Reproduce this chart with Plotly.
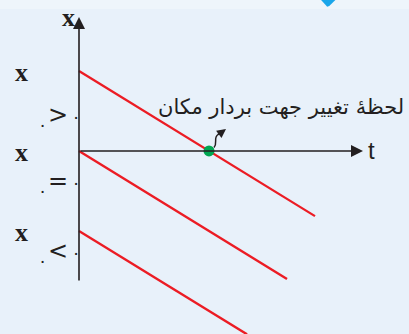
import plotly.graph_objects as go

# position-time lines for three starting positions (x0 > 0, x0 = 0, x0 < 0)
x0_values = [8.0, 0.0, -8.0]
velocity = -0.615
t_end = [23.6, 20.8, 16.8]
t_turn = 13.0  # moment the position vector changes direction
t_axis_end = 28.4
x_axis_min, x_axis_max = -13.1, 13.4

row_signs = ['>', '=', '<']
arabic_label = 'لحظهٔ تغییر جهت بردار مکان'
zero_fa = '۰'

RED = '#EC1C24'
AXIS = '#231F20'
BG = '#E8F1FA'

fig = go.Figure()

for x0, te in zip(x0_values, t_end):
    fig.add_trace(go.Scatter(
        x=[0, te], y=[x0, x0 + velocity * te], mode='lines',
        line=dict(color=RED, width=2.3), hoverinfo='skip', showlegend=False))

# green dot where the x0 > 0 line crosses the t axis
fig.add_trace(go.Scatter(
    x=[t_turn], y=[x0_values[0] + velocity * t_turn], mode='markers',
    marker=dict(color='#00A651', size=11), hoverinfo='skip', showlegend=False))

# axes with arrows
arrow = dict(showarrow=True, arrowhead=2, arrowsize=1.5, arrowwidth=1.6,
             arrowcolor=AXIS, xref='x', yref='y', axref='x', ayref='y', text='', standoff=0)
fig.add_annotation(x=0, y=x_axis_max, ax=0, ay=x_axis_min, **arrow)
fig.add_annotation(x=t_axis_end, y=0, ax=0, ay=0, **arrow)

# little curved pointer from the dot
fig.add_shape(type='path', xref='x', yref='y',
              path='M 13.5 0.35 C 13.9 0.8, 13.4 1.3, 13.9 1.65 L 14.3 1.9',
              line=dict(color=AXIS, width=1.5))
fig.add_annotation(x=14.7, y=2.2, ax=14.1, ay=1.75, showarrow=True, arrowhead=2,
                   arrowsize=1.2, arrowwidth=1.5, arrowcolor=AXIS,
                   xref='x', yref='y', axref='x', ayref='y', text='', standoff=0)

serif = dict(family='Liberation Serif', size=26, color=AXIS, weight='bold')

fig.add_annotation(x=-1.1, y=13.4, text='x', showarrow=False, font=serif)
fig.add_annotation(x=29.2, y=0.1, text='t', showarrow=False,
                   font=dict(family='Liberation Sans', size=24, color=AXIS))
fig.add_annotation(x=32.7, y=4.4, text=arabic_label, showarrow=False, xanchor='right',
                   font=dict(family='DejaVu Sans', size=21, color=AXIS))

# row labels: x, subscript zero, then "sign zero"
sub_offsets = [5.4, 4.0, 3.0]
sign_offsets = [4.4, 3.0, 2.0]
small = dict(family='DejaVu Sans', size=17, color=AXIS)
for x0, sign, so, go_ in zip(x0_values, row_signs, sub_offsets, sign_offsets):
    fig.add_annotation(x=-5.8, y=x0 - 0.1, text='x', showarrow=False, font=serif)
    fig.add_annotation(x=-3.7, y=x0 - so, text=zero_fa, showarrow=False, font=small)
    fig.add_annotation(x=-1.5, y=x0 - go_, showarrow=False,
                       text=f'{sign}<span style="font-size:17px">\u2009{zero_fa}</span>',
                       font=dict(family='DejaVu Sans', size=24, color=AXIS))

# top light band and blue drop at the top edge
fig.add_shape(type='rect', xref='paper', yref='paper', x0=0, x1=1, y0=0.973, y1=1,
              fillcolor='#EEF5FB', line=dict(width=0), layer='below')
fig.add_shape(type='path', xref='paper', yref='paper',
              path='M 0.785 1 L 0.82 1 L 0.805 0.982 L 0.8 0.980 Z',
              fillcolor='#1AA6EA', line=dict(width=0))

fig.update_layout(
    width=409, height=334, margin=dict(l=0, r=0, t=0, b=0),
    plot_bgcolor=BG, paper_bgcolor=BG,
    xaxis=dict(range=[-7.9, 33.0], visible=False, fixedrange=True),
    yaxis=dict(range=[-18.3, 15.1], visible=False, fixedrange=True),
    showlegend=False,
)

fig.write_html('out.html', config={'displayModeBar': False},
               post_script="document.body.style.margin='0';document.body.style.overflow='hidden';")
